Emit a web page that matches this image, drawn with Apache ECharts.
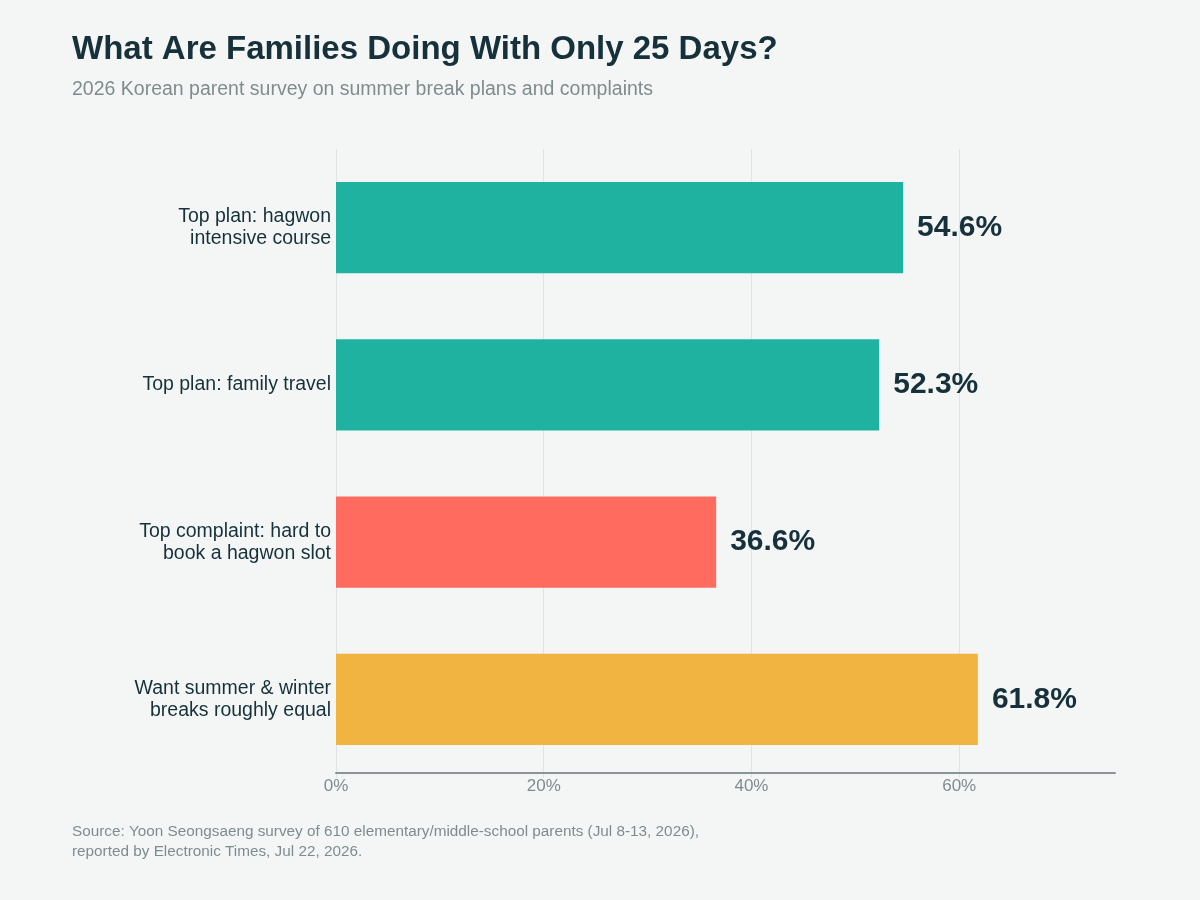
<!DOCTYPE html>
<html>
<head>
<meta charset="utf-8">
<script src="https://cdn.jsdelivr.net/npm/echarts@6/dist/echarts.min.js"></script>
<style>
  html, body { margin: 0; padding: 0; background: #f4f6f6; }
  #main { width: 1200px; height: 900px; }
</style>
</head>
<body>
<div id="main"></div>
<script>
// data
var categories = [
  'Top plan: hagwon\nintensive course',
  'Top plan: family travel',
  'Top complaint: hard to\nbook a hagwon slot',
  'Want summer & winter\nbreaks roughly equal'
];
var values = [54.6, 52.3, 36.6, 61.8];
var barColors = ['#20b2a0', '#20b2a0', '#ff6b5e', '#f2b441'];
var gridTicks = [0, 20, 40, 60];

var font = '"Liberation Sans", Arial, sans-serif';
var dark = '#17313b';

var myChart = echarts.init(document.getElementById('main'));
var option = {
  backgroundColor: '#f4f6f6',
  animation: false,
  title: [
    {
      text: 'What Are Families Doing With Only 25 Days?',
      left: 72, top: 33, padding: 0,
      textStyle: { fontFamily: font, fontSize: 33, fontWeight: 'bold', color: dark }
    },
    {
      text: '2026 Korean parent survey on summer break plans and complaints',
      left: 72, top: 80, padding: 0,
      textStyle: { fontFamily: font, fontSize: 19.5, fontWeight: 'normal', color: '#7f8c8d' }
    },
    {
      text: 'Source: Yoon Seongsaeng survey of 610 elementary/middle-school parents (Jul 8-13, 2026),\nreported by Electronic Times, Jul 22, 2026.',
      left: 72, top: 822, padding: 0,
      textStyle: { fontFamily: font, fontSize: 15.3, fontWeight: 'normal', color: '#7f8c8d', lineHeight: 20 }
    }
  ],
  grid: { left: 336, right: 85, top: 149, bottom: 122 },
  xAxis: {
    type: 'value',
    min: 0, max: 75, interval: 20,
    offset: -5,
    axisLine: { show: true, lineStyle: { color: '#8a9597', width: 2 } },
    axisTick: { show: false },
    splitLine: { show: false },
    axisLabel: {
      fontFamily: font, fontSize: 17, color: '#7f8c8d', margin: 5,
      showMaxLabel: false,
      formatter: function (v) { return v === 75 ? '' : v + '%'; }
    }
  },
  yAxis: {
    type: 'category',
    inverse: true,
    data: categories,
    axisLine: { show: false },
    axisTick: { show: false },
    axisLabel: {
      fontFamily: font, fontSize: 19.5, color: dark, lineHeight: 22,
      margin: 5, align: 'right', padding: [5, 0, 0, 0]
    }
  },
  series: [{
    type: 'bar',
    data: values.map(function (v, i) { return { value: v, itemStyle: { color: barColors[i] } }; }),
    barCategoryGap: '42%',
    label: {
      show: true, position: 'right', distance: 14,
      fontFamily: font, fontSize: 30, fontWeight: 'bold', color: dark,
      formatter: function (p) { return p.value.toFixed(1) + '%'; }
    },
    markLine: {
      silent: true, symbol: 'none', z: 0,
      label: { show: false },
      lineStyle: { color: '#dfe3e3', width: 1, type: 'solid' },
      data: gridTicks.map(function (t) { return { xAxis: t }; })
    }
  }]
};
myChart.setOption(option);
</script>
</body>
</html>
